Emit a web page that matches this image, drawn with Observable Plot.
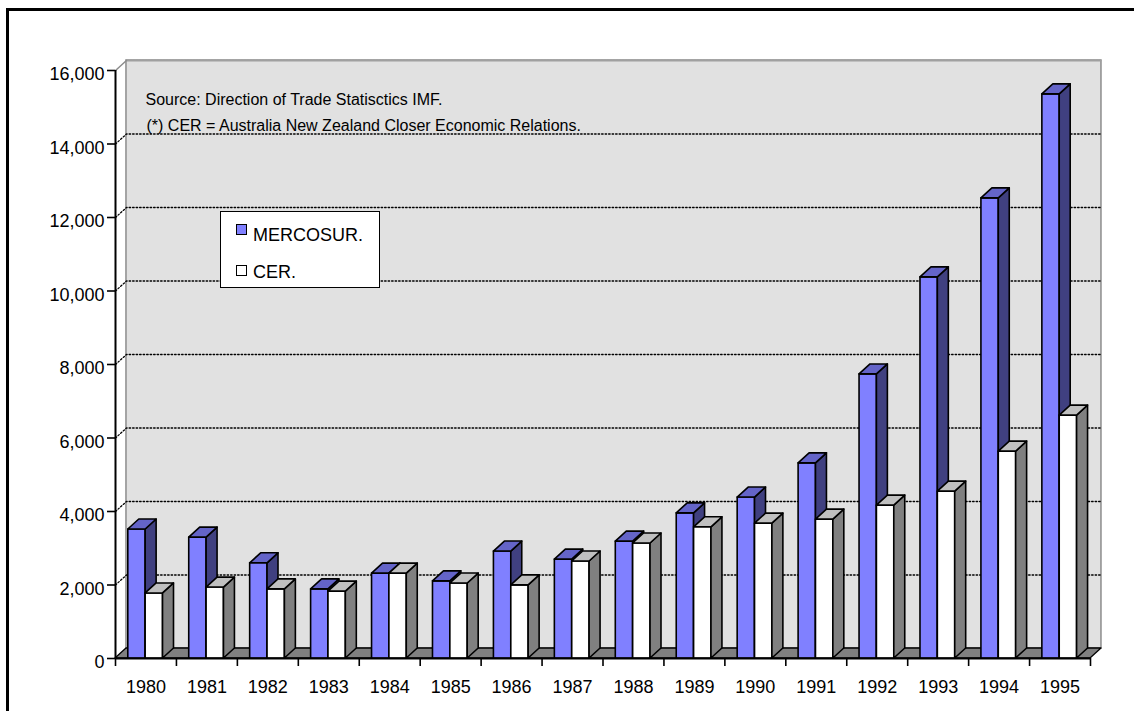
<!DOCTYPE html>
<html>
<head>
<meta charset="utf-8">
<script src="https://cdn.jsdelivr.net/npm/d3@7"></script>
<script src="https://cdn.jsdelivr.net/npm/@observablehq/plot@0.6"></script>
<style>
  html, body { margin: 0; padding: 0; background: #fff; overflow: hidden; }
  #wrap { position: relative; width: 1134px; height: 711px; font-family: Arial, "Liberation Sans", sans-serif; }
  #frame { position: absolute; left: 6px; top: 8px; width: 1400px; height: 900px;
           border-left: 3.5px solid #000; border-top: 3.5px solid #000; pointer-events: none; }
  #legend { position: absolute; left: 220px; top: 211px; width: 158px; height: 75px;
            border: 1.5px solid #000; background: #fff; }
  .sw { position: absolute; left: 15px; width: 9px; height: 9px; border: 1.5px solid #000; }
  .lt { position: absolute; left: 32px; font-size: 18px; line-height: 18px; color: #000; white-space: nowrap; }
</style>
</head>
<body>
<div id="wrap">
  <div id="chart"></div>
  <div id="frame"></div>
  <div id="legend">
    <div class="sw" style="top:12px;background:#8080ff"></div>
    <div class="lt" style="top:14px">MERCOSUR.</div>
    <div class="sw" style="top:53px;background:#ffffff"></div>
    <div class="lt" style="top:51px">CER.</div>
  </div>
</div>
<script>
// ---- data ----
const years = ["1980","1981","1982","1983","1984","1985","1986","1987","1988","1989","1990","1991","1992","1993","1994","1995"];
const mercosur = [3510, 3290, 2590, 1880, 2310, 2100, 2910, 2690, 3180, 3950, 4380, 5310, 7730, 10370, 12520, 15350];
const cer      = [1770, 1930, 1880, 1820, 2310, 2040, 1990, 2640, 3130, 3570, 3670, 3780, 4160, 4540, 5630, 6610];
const yTicks = [0, 2000, 4000, 6000, 8000, 10000, 12000, 14000, 16000];
const gridVals = [2000, 4000, 6000, 8000, 10000, 12000, 14000];
const notes = ["Source: Direction of Trade Statisctics IMF.", "(*) CER = Australia New Zealand Closer Economic Relations."];

const series = [
  {name: "MERCOSUR.", values: mercosur, front: "#8080ff", side: "#404080", top: "#6464c8"},
  {name: "CER.",      values: cer,      front: "#ffffff", side: "#808080", top: "#c0c0c0"}
];

// ---- 3D geometry, in data units of the scales ----
const N = years.length;
const yMax = 16000;
const dX = 0.18;    // depth, x direction (category units)
const dY = 272;     // depth, y direction (value units)
const barStart = 0.21, barW = 0.285;

const barMarks = series.flatMap((s, k) => {
  const bars = s.values.map((v, i) => ({
    id: i, v,
    xl: i + barStart + k * barW,
    xr: i + barStart + (k + 1) * barW
  }));
  const sides = bars.flatMap(b => [
    {id: b.id, x: b.xr, y1: 0, y2: b.v},
    {id: b.id, x: b.xr + dX, y1: dY, y2: b.v + dY}
  ]);
  const tops = bars.flatMap(b => [
    {id: b.id, y: b.v, x1: b.xl, x2: b.xr},
    {id: b.id, y: b.v + dY, x1: b.xl + dX, x2: b.xr + dX}
  ]);
  const st = {stroke: "#000", strokeWidth: 1.6, strokeLinejoin: "round"};
  return [
    Plot.rect(bars, {x1: "xl", x2: "xr", y1: 0, y2: "v", fill: s.front, ...st}),
    Plot.area(sides, {x1: "x", y1: "y1", y2: "y2", z: "id", fill: s.side, ...st}),
    Plot.area(tops, {y1: "y", x1: "x1", x2: "x2", z: "id", fill: s.top, ...st})
  ];
});

const gridPts = gridVals.flatMap(v => [
  {v, x: 0, y: v}, {v, x: dX, y: v + dY}, {v, x: N + dX, y: v + dY}
]);

const chart = Plot.plot({
  width: 1134,
  height: 711,
  marginLeft: 115,
  marginRight: 44,
  marginTop: 70,
  marginBottom: 53,
  x: {domain: [0, N]},
  y: {domain: [0, yMax]},
  style: {fontFamily: "Arial, 'Liberation Sans', sans-serif", fontSize: "18px", color: "#000", background: "transparent", overflow: "visible"},
  marks: [
    // back wall
    Plot.rect([0], {x1: dX, x2: N + dX, y1: dY, y2: yMax + dY, fill: "#e1e1e1", stroke: "#8c8c8c", strokeWidth: 1.5}),
    Plot.line([{x: dX, y: yMax + dY}, {x: N + dX, y: yMax + dY}], {x: "x", y: "y", stroke: "#a0a0a0", strokeWidth: 2, strokeDasharray: "2,1"}),
    // left side wall top edge
    Plot.line([{x: 0, y: yMax}, {x: dX, y: yMax + dY}], {x: "x", y: "y", stroke: "#8c8c8c", strokeWidth: 1.5}),
    // gridlines
    Plot.line(gridPts, {x: "x", y: "y", z: "v", stroke: "#000", strokeWidth: 1.3, strokeDasharray: "1.5,2"}),
    // notes
    Plot.text([notes[0]], {frameAnchor: "top-left", dx: 30, dy: 29, textAnchor: "start", lineAnchor: "middle", fontSize: 16, fill: "#000"}),
    Plot.text([notes[1]], {frameAnchor: "top-left", dx: 31, dy: 55, textAnchor: "start", lineAnchor: "middle", fontSize: 16, fill: "#000"}),
    // floor
    Plot.area([{y: 0, x1: 0, x2: N}, {y: dY, x1: dX, x2: N + dX}], {y1: "y", x1: "x1", x2: "x2", fill: "#808080", stroke: "#000", strokeWidth: 1.3}),
    // bars
    ...barMarks,
    // axes
    Plot.ruleX([0], {stroke: "#000", strokeWidth: 2}),
    Plot.ruleY([0], {x1: 0, x2: N, stroke: "#000", strokeWidth: 2}),
    Plot.axisY({ticks: yTicks, tickSize: 8, fill: "none", stroke: "#000", strokeWidth: 1.6}),
    Plot.axisY({ticks: yTicks, tickSize: 0, tickPadding: 11, dy: 4, tickFormat: d3.format(","), fill: "#000", fontSize: 18}),
    Plot.axisX({ticks: d3.range(N + 1), tickSize: 8, fill: "none", stroke: "#000", strokeWidth: 1.6}),
    Plot.text(years, {x: (d, i) => i + 0.5, y: 0, dy: 29, text: d => d, fontSize: 18, fill: "#000"})
  ]
});
document.getElementById("chart").appendChild(chart);
</script>
</body>
</html>
